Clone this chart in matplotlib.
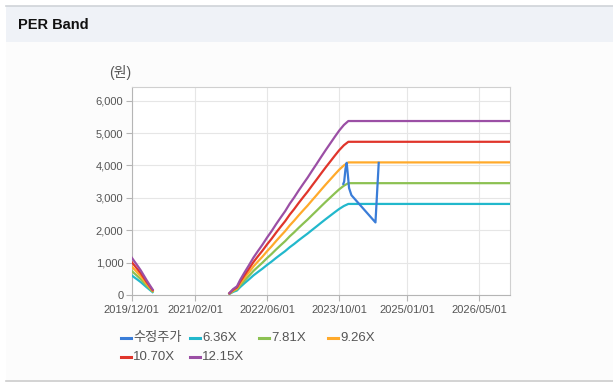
import numpy as np
import pandas as pd
import matplotlib
matplotlib.use("Agg")
import matplotlib.pyplot as plt
import matplotlib.dates as mdates
from matplotlib.lines import Line2D
from matplotlib.patches import Rectangle
from matplotlib.ticker import FuncFormatter

plt.rcParams['font.family'] = ['Liberation Sans', 'Noto Sans CJK KR', 'DejaVu Sans']

# EPS path (band value = EPS * multiple)
eps_dates = ["2019-12-01", "2019-12-20", "2020-01-10", "2020-02-01", "2020-02-20",
             "2020-03-10", "2020-04-01", "2020-04-20", "2020-04-21",
             "2021-09-20", "2021-10-15", "2021-11-10", "2021-12-01", "2022-01-01",
             "2022-02-01", "2022-03-01", "2022-04-01", "2022-05-01", "2022-06-01",
             "2022-07-01", "2022-08-01", "2022-09-01", "2022-10-01", "2022-11-01",
             "2022-12-01", "2023-01-01", "2023-02-01", "2023-03-01", "2023-04-01",
             "2023-05-01", "2023-06-01", "2023-07-01", "2023-08-01", "2023-09-01",
             "2023-10-01", "2023-11-01", "2023-12-01", "2026-11-22"]
eps = [95, 85, 74, 62, 50, 38, 25, 14, np.nan,
       5, 15, 22, 38, 58, 77, 95, 112, 128, 146,
       162, 180, 197, 213, 232, 248, 266, 283, 298, 316,
       333, 351, 368, 385, 402, 418, 432, 442, 442]

multiples = [6.36, 7.81, 9.26, 10.70, 12.15]
band_labels = ["6.36X", "7.81X", "9.26X", "10.70X", "12.15X"]
band_colors = ["#22b8cc", "#8cc152", "#ffaa2b", "#e0352b", "#9b4fa5"]

# adjusted price
price_dates = ["2023-10-28", "2023-11-03", "2023-11-12", "2023-11-20", "2023-11-28",
               "2023-12-06", "2023-12-22", "2024-06-01", "2024-06-23"]
price = [3430, 3500, 3900, 4080, 3700, 3300, 3080, 2240, 4080]
price_label = "수정주가"
price_color = "#3a7dd8"

xticks = ["2019-12-01", "2021-02-01", "2022-06-01", "2023-10-01", "2025-01-01", "2026-05-01"]

W, H = 613, 386
fig = plt.figure(figsize=(W / 100, H / 100), dpi=100)
fig.patch.set_facecolor("white")

def fy(y):
    return 1 - y / H

# page decoration
fig.patches.append(Rectangle((6 / W, fy(380)), 1, (380 - 42) / H, transform=fig.transFigure,
                             facecolor="#fcfcfc", edgecolor="none", zorder=-2))
fig.patches.append(Rectangle((6 / W, fy(42)), 1, 36 / H, transform=fig.transFigure,
                             facecolor="#eff2f7", edgecolor="none", zorder=-2))
fig.add_artist(Line2D([6 / W, 1], [fy(6), fy(6)], color="#cfd3d8", lw=1.2))
fig.add_artist(Line2D([6 / W, 1], [fy(380.5), fy(380.5)], color="#cccccc", lw=1.2))
fig.text(18 / W, fy(25), "PER Band", fontsize=10.5, fontweight="bold", color="#111111",
         va="center", ha="left")

ax = fig.add_axes([131.7 / W, fy(295), (509.5 - 131.7) / W, (295 - 86.7) / H])
ax.set_zorder(5)
ax.set_facecolor("white")

ed = pd.to_datetime(eps_dates)
eps_arr = np.array(eps, dtype=float)
ax.plot(pd.to_datetime(price_dates), price, color=price_color, lw=1.6, zorder=4)
for m, c in zip(multiples, band_colors):
    ax.plot(ed, eps_arr * m, color=c, lw=1.6, zorder=3)

ax.set_xlim(pd.Timestamp("2019-12-01"), pd.Timestamp("2026-11-22"))
ax.set_ylim(0, 6430)
ax.set_yticks(range(0, 7000, 1000))
ax.yaxis.set_major_formatter(FuncFormatter(lambda v, p: f"{int(v):,}"))
ax.set_xticks(pd.to_datetime(xticks))
ax.xaxis.set_major_formatter(mdates.DateFormatter("%Y/%m/%d"))
ax.grid(True, color="#e6e6e6", lw=0.8, zorder=0)
ax.set_axisbelow(True)
for s in ["left", "bottom"]:
    ax.spines[s].set_color("#b5b5b5")
for s in ["top", "right"]:
    ax.spines[s].set_color("#d0d0d0")
ax.tick_params(axis="both", labelsize=8, colors="#b5b5b5", labelcolor="#555555", length=4, width=0.8)
ax.tick_params(axis="x", pad=3)
ax.tick_params(axis="y", pad=2)

fig.text(109 / W, fy(72), "(원)", fontsize=10, color="#555555", va="center", ha="left")

# legend, laid out row by row
labels = [price_label] + band_labels
colors = [price_color] + band_colors
for i, (lab, col) in enumerate(zip(labels, colors)):
    r, c = divmod(i, 4)
    x0 = 121 + 69 * c
    y0 = 338 + 18.7 * r
    fig.add_artist(Line2D([x0 / W, (x0 + 10) / W], [fy(y0), fy(y0)], color=col, lw=2.2))
    fig.text((x0 + 12) / W, fy(y0), lab, fontsize=9.5, color="#555555", va="center", ha="left")

fig.savefig("out.png", dpi=100)
